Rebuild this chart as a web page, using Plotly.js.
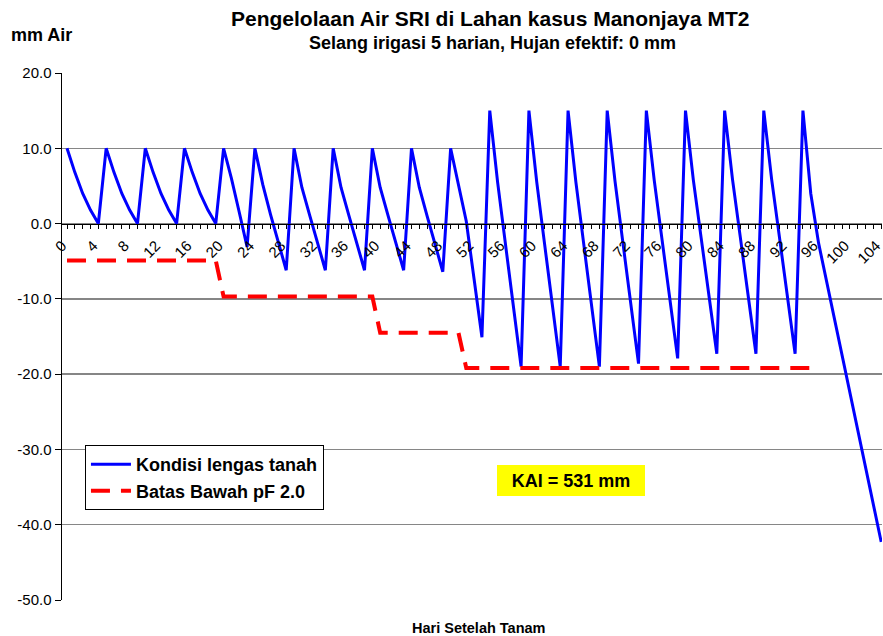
<!DOCTYPE html>
<html>
<head>
<meta charset="utf-8">
<script src="https://cdn.plot.ly/plotly-3.0.1.min.js"></script>
<style>
html,body{margin:0;padding:0;background:#fff;}
#chart{width:883px;height:636px;}
</style>
</head>
<body>
<div id="chart"></div>
<script>
// Hari Setelah Tanam (days after planting)
const days = [0,1,2,3,4,5,6,7,8,9,10,11,12,13,14,15,16,17,18,19,20,21,22,23,24,25,26,27,28,29,30,31,32,33,34,35,36,37,38,39,40,41,42,43,44,45,46,47,48,49,50,51,52,53,54,55,56,57,58,59,60,61,62,63,64,65,66,67,68,69,70,71,72,73,74,75,76,77,78,79,80,81,82,83,84,85,86,87,88,89,90,91,92,93,94,95,96,97,98,99,100,101,102,103,104];

// Kondisi lengas tanah (mm)
const kondisi = [
  10,6.8,4.0,1.8,0.0,
  10,6.8,4.0,1.8,0.0,
  10,6.8,4.0,1.8,0.0,
  10,6.8,4.0,1.8,0.0,
  10,6.0,1.5,-3.1,
  10,5.2,1.2,-2.5,-6.2,
  10,4.8,1.1,-2.5,-6.2,
  10,4.8,1.1,-2.5,-6.2,
  10,4.8,1.1,-2.5,-6.2,
  10,4.8,1.0,-2.7,-6.4,
  10,5.0,0.3,-7.4,-15.1,
  15,5.5,-2.7,-10.8,-19.0,
  15,5.5,-2.7,-10.8,-19.0,
  15,5.5,-2.7,-10.8,-19.0,
  15,5.6,-2.5,-10.5,-18.6,
  15,5.8,-2.1,-10.0,-17.9,
  15,5.8,-1.9,-9.6,-17.3,
  15,5.9,-1.8,-9.5,-17.3,
  15,5.9,-1.8,-9.6,-17.3,
  15,4.0,-2.6,-7.6,-12.6,-17.6,-22.5,-27.4,-32.3,-37.2,-42.3
];

// Batas Bawah pF 2.0 (days 0..95)
const batasDays = [0,1,2,3,4,5,6,7,8,9,10,11,12,13,14,15,16,17,18,19,20,21,22,23,24,25,26,27,28,29,30,31,32,33,34,35,36,37,38,39,40,41,42,43,44,45,46,47,48,49,50,51,52,53,54,55,56,57,58,59,60,61,62,63,64,65,66,67,68,69,70,71,72,73,74,75,76,77,78,79,80,81,82,83,84,85,86,87,88,89,90,91,92,93,94,95];
const batas = [
  -4.9,-4.9,-4.9,-4.9,-4.9,-4.9,-4.9,-4.9,-4.9,-4.9,-4.9,-4.9,-4.9,-4.9,-4.9,-4.9,-4.9,-4.9,-4.9,-4.9,
  -9.7,-9.7,-9.7,-9.7,-9.7,-9.7,-9.7,-9.7,-9.7,-9.7,-9.7,-9.7,-9.7,-9.7,-9.7,-9.7,-9.7,-9.7,-9.7,-9.7,
  -14.5,-14.5,-14.5,-14.5,-14.5,-14.5,-14.5,-14.5,-14.5,-14.5,-14.5,
  -19.2,-19.2,-19.2,-19.2,-19.2,-19.2,-19.2,-19.2,-19.2,-19.2,-19.2,-19.2,-19.2,-19.2,-19.2,
  -19.2,-19.2,-19.2,-19.2,-19.2,-19.2,-19.2,-19.2,-19.2,-19.2,-19.2,-19.2,-19.2,-19.2,-19.2,
  -19.2,-19.2,-19.2,-19.2,-19.2,-19.2,-19.2,-19.2,-19.2,-19.2,-19.2,-19.2,-19.2,-19.2,-19.2
];

const xTickVals = [0,4,8,12,16,20,24,28,32,36,40,44,48,52,56,60,64,68,72,76,80,84,88,92,96,100,104];
const xTickText = ["0","4","8","12","16","20","24","28","32","36","40","44","48","52","56","60","64","68","72","76","80","84","88","92","96","100","104"];
const yTickVals = [20,10,0,-10,-20,-30,-40,-50];
const yTickText = ["20.0","10.0","0.0","-10.0","-20.0","-30.0","-40.0","-50.0"];

const FONT = "Arial, 'Liberation Sans', sans-serif";

const traces = [
  {
    x: days, y: kondisi, type: 'scatter', mode: 'lines',
    name: 'Kondisi lengas tanah',
    line: {color: '#0000FF', width: 3}
  },
  {
    x: batasDays, y: batas, type: 'scatter', mode: 'lines',
    name: 'Batas Bawah pF 2.0',
    line: {color: '#FF0000', width: 4, dash: '19px,11px'}
  }
];

const layout = {
  width: 883, height: 636,
  margin: {l: 62, r: 1, t: 73, b: 36},
  paper_bgcolor: '#ffffff', plot_bgcolor: '#ffffff',
  font: {family: FONT, color: '#000'},
  showlegend: true,
  legend: {
    x: 0.028, y: 0.294, xanchor: 'left', yanchor: 'top',
    bgcolor: '#ffffff', bordercolor: '#000', borderwidth: 1,
    font: {family: FONT, size: 18, color: '#000', weight: 'bold'},
    tracegroupgap: 0, itemwidth: 40
  },
  xaxis: {
    range: [-0.64, 104.1],
    anchor: 'free', position: 50/70,
    showline: true, linecolor: '#000', linewidth: 1.5,
    showgrid: false, zeroline: false,
    tickmode: 'array', tickvals: xTickVals, ticktext: xTickText,
    tickangle: -45, ticks: 'outside', ticklen: 4, tickcolor: '#000', tickwidth: 1,
    ticklabelshift: -5, ticklabelstandoff: 2, ticklabeloverflow: 'allow',
    tickfont: {family: FONT, size: 15, color: '#000'},
    minor: {dtick: 1, tick0: 0, ticks: 'outside', ticklen: 4, tickcolor: '#000', tickwidth: 1, showgrid: false}
  },
  yaxis: {
    range: [-50, 20],
    showline: true, linecolor: '#000', linewidth: 1.5,
    showgrid: true, gridcolor: '#868686', gridwidth: 1.5,
    zeroline: false,
    tickmode: 'array', tickvals: yTickVals, ticktext: yTickText,
    ticks: 'outside', ticklen: 6, tickcolor: '#000',
    tickfont: {family: FONT, size: 15, color: '#000'}
  },
  annotations: [
    {text: 'Pengelolaan Air SRI di Lahan kasus Manonjaya MT2', xref: 'paper', yref: 'paper',
     x: (490-62)/820, y: (600-18)/527, xanchor: 'center', yanchor: 'middle', showarrow: false,
     font: {family: FONT, size: 21, color: '#000', weight: 'bold'}},
    {text: 'Selang irigasi 5 harian, Hujan efektif: 0 mm', xref: 'paper', yref: 'paper',
     x: (492-62)/820, y: (600-43)/527, xanchor: 'center', yanchor: 'middle', showarrow: false,
     font: {family: FONT, size: 18, color: '#000', weight: 'bold'}},
    {text: 'mm Air', xref: 'paper', yref: 'paper',
     x: (41-62)/820, y: (600-35)/527, xanchor: 'center', yanchor: 'middle', showarrow: false,
     font: {family: FONT, size: 18, color: '#000', weight: 'bold'}},
    {text: 'Hari Setelah Tanam', xref: 'paper', yref: 'paper',
     x: (479-62)/820, y: (600-628)/527, xanchor: 'center', yanchor: 'middle', showarrow: false,
     font: {family: FONT, size: 14.5, color: '#000', weight: 'bold'}},
    {text: 'KAI = 531 mm', xref: 'paper', yref: 'paper',
     x: (571-62)/820, y: (600-480)/527, xanchor: 'center', yanchor: 'middle', showarrow: false,
     width: 148, height: 31, bgcolor: '#FFFF00', borderpad: 0, borderwidth: 0,
     font: {family: FONT, size: 18, color: '#000', weight: 'bold'}}
  ]
};

Plotly.newPlot('chart', traces, layout, {staticPlot: true, displayModeBar: false});
</script>
</body>
</html>
